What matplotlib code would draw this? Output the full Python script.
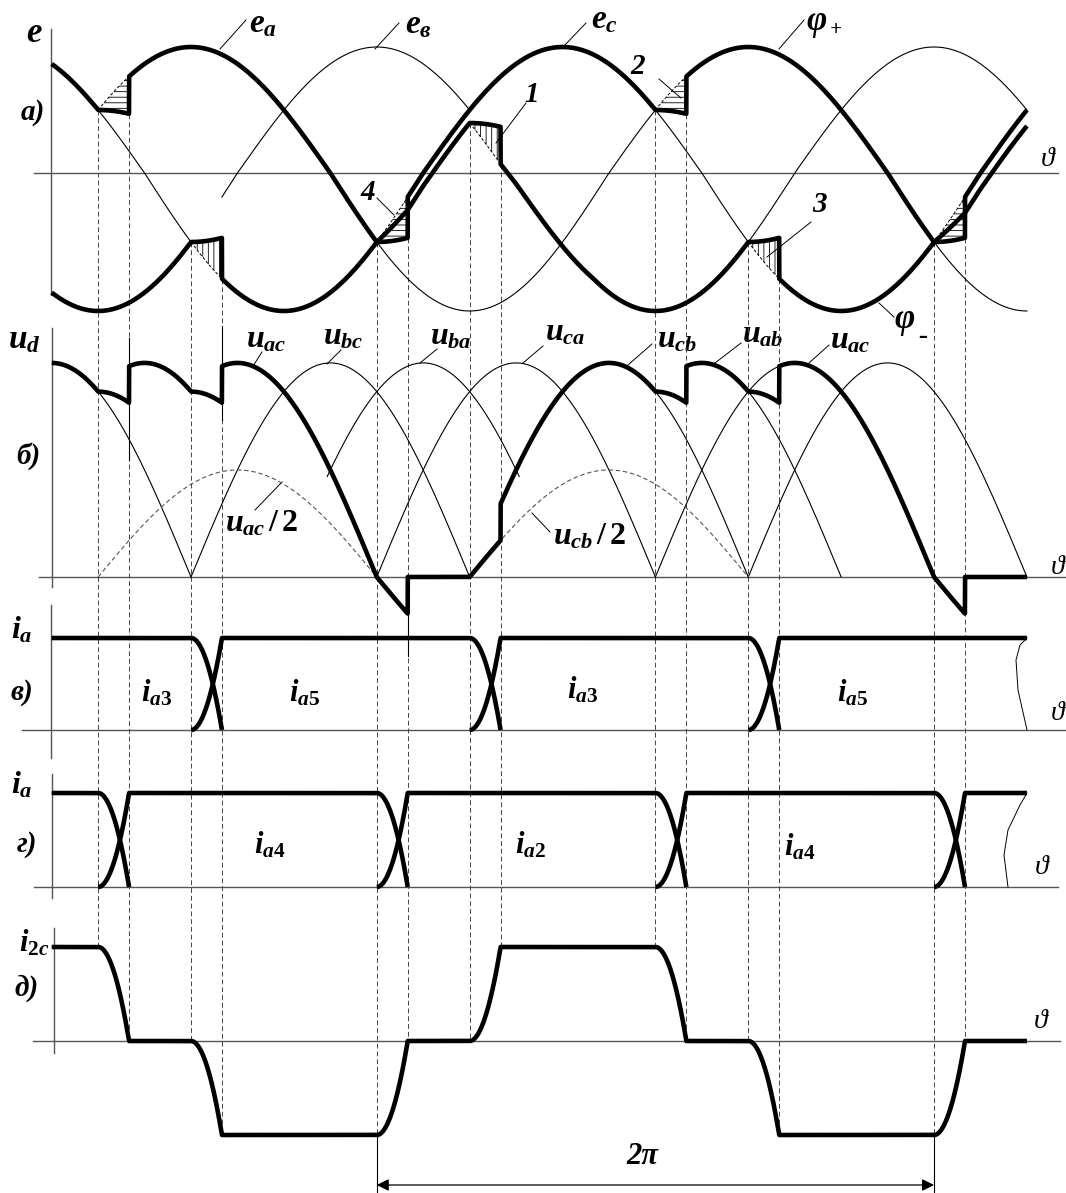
import numpy as np
import matplotlib
matplotlib.use("Agg")
import matplotlib.pyplot as plt

# ---- data: angles in electrical degrees ----
THETA_START = -90
THETA_END = 540
GAMMA = 20  # commutation angle

PHASE_SHIFT = {"a": 0, "b": 120, "c": 240}

# valve groups: (start of commutation, outgoing phase, incoming phase)
CATHODE_FIRST = "c"
CATHODE_COMM = [(-60, "c", "a"), (120, "a", "c"), (300, "c", "a"), (480, "a", "c")]
ANODE_FIRST = "b"
ANODE_COMM = [(0, "b", "c"), (180, "c", "b"), (360, "b", "c")]

# thin parts of the phase emfs (panel a) and of the line voltages (panel б)
E_THIN = [("a", 120, 300), ("a", 480, 540), ("b", 20, 180), ("b", 360, 540),
          ("c", -60, 0), ("c", 300, 360)]
U_THIN = [("c", "b", -60, 0), ("b", "c", 0, 180), ("b", "a", 88, 212),
          ("c", "a", 120, 300), ("c", "b", 300, 360), ("a", "c", 300, 380),
          ("a", "b", 360, 420), ("b", "c", 360, 540)]
U_HALF = [("a", "c", -60, 120), ("c", "b", 180, 360)]

PANEL_V_PHASES = ["b", "c"]   # anode valves, panel в
PANEL_G_PHASES = ["a", "c"]   # cathode valves, panel г
TWO_PI = (120, 480)

# ---- layout (pixels) ----
W, H = 1066, 1193
X0, KX = 191, 1.548          # pixel of theta = 0, pixels per degree
PHI_MINUS_GAP = ([120, 140, 200, 260, 480, 500], [0, 13, 13, 0, 0, 16])
SOLID_MARKS = [(-40, 338, 460), (20, 326, 420), (140, 612, 656)]


def ya(v):
    return 173 - np.where(v > 0, 126, 138) * v


def yb(v):
    return 577 - 123.6 * v


def yv(v):
    return 730 - 92 * v


def yg(v):
    return 887 - 94 * v


def yd(v):
    return 1041 - 94 * v


def emf(p, t):
    return np.cos(np.radians(t - PHASE_SHIFT[p]))


def valve_group(comm, first, t):
    pot = emf(first, t)
    cur = {p: np.zeros_like(t) for p in "abc"}
    cur[first][t < comm[0][0]] = 1.0
    for k, (t0, out, inc) in enumerate(comm):
        t1 = t0 + GAMMA
        t_next = comm[k + 1][0] if k + 1 < len(comm) else np.inf
        dur = (t >= t0) & (t < t1)
        aft = (t >= t1) & (t < t_next)
        share = (1 - np.cos(np.radians(t[dur] - t0))) / (1 - np.cos(np.radians(GAMMA)))
        pot[dur] = (emf(out, t[dur]) + emf(inc, t[dur])) / 2
        cur[inc][dur] = share
        cur[out][dur] = 1 - share
        pot[aft] = emf(inc, t[aft])
        cur[inc][aft] = 1.0
    return pot, cur


th = np.linspace(THETA_START, THETA_END, 12601)
phi_p, cur_k = valve_group(CATHODE_COMM, CATHODE_FIRST, th)
phi_m, cur_n = valve_group(ANODE_COMM, ANODE_FIRST, th)
ud = phi_p - phi_m
i2c = cur_k["c"] - cur_n["c"]

plt.rcParams['font.family'] = ['Liberation Serif', 'DejaVu Serif']
plt.rcParams['mathtext.fontset'] = 'custom'
plt.rcParams['mathtext.it'] = 'Liberation Serif:italic:bold'
plt.rcParams['mathtext.rm'] = 'Liberation Serif:bold'
plt.rcParams['mathtext.bf'] = 'Liberation Serif:bold'
plt.rcParams['hatch.linewidth'] = 0.6

THICK = dict(color="black", lw=3.3, solid_capstyle="butt", zorder=4)
THIN = dict(color="black", lw=0.8, zorder=2)
AXL = dict(color="#555555", lw=1.0, zorder=1)

fig = plt.figure(figsize=(W / 100, H / 100), dpi=100)
lab = fig.add_axes([0, 0, 1, 1])
lab.set_xlim(0, W)
lab.set_ylim(H, 0)
lab.axis("off")
ax = fig.add_axes([0, 0, 1, 1])
ax.set_xlim(-X0 / KX, (W - X0) / KX)
ax.set_ylim(H, 0)
ax.axis("off")

# ---- panel a ----
gap = np.interp(th, *PHI_MINUS_GAP)
yp = ya(phi_p)
ym = ya(phi_m) + gap
for p, t0, t1 in E_THIN:
    t = np.linspace(t0, t1, 300)
    ax.plot(t, ya(emf(p, t)), **THIN)
for comm, hatch, shifted in ((CATHODE_COMM, '---', False), (ANODE_COMM, '|||', True)):
    for t0, out, inc in comm:
        t = np.linspace(t0, t0 + GAMMA, 100)
        off = np.interp(t, *PHI_MINUS_GAP) if shifted else 0
        y_avg = ya((emf(out, t) + emf(inc, t)) / 2) + off
        y_inc = ya(emf(inc, t)) + off
        ax.fill_between(t, y_avg, y_inc, facecolor='none', edgecolor='black',
                        hatch=hatch, lw=0, zorder=2)
        ax.plot(t, y_inc, color='black', lw=0.7, dashes=(3, 2), zorder=2)
ax.plot(th, yp, **THICK)
ax.plot(th, ym, **THICK)

# ---- panel б ----
for p, q, t0, t1 in U_THIN:
    t = np.linspace(t0, t1, 300)
    ax.plot(t, yb(emf(p, t) - emf(q, t)), **THIN)
for p, q, t0, t1 in U_HALF:
    t = np.linspace(t0, t1, 300)
    ax.plot(t, yb((emf(p, t) - emf(q, t)) / 2), color='#555555', lw=0.8,
            dashes=(4, 2.5), zorder=2)
ax.plot(th, yb(ud), **THICK)


# ---- panels в, г ----
def draw_current(i, yfun):
    on = np.convolve(i > 1e-9, [1, 1, 1], mode='same') > 0
    ax.plot(th, yfun(np.where(on, i, np.nan)), **THICK)


for p in PANEL_V_PHASES:
    draw_current(cur_n[p], yv)
for p in PANEL_G_PHASES:
    draw_current(cur_k[p], yg)

# ---- panel д ----
ax.plot(th, yd(i2c), **THICK)


# ---- dashed projection lines ----
def edge_px(yarr, t):
    k = np.searchsorted(th, t)
    return max(yarr[max(k - 3, 0)], yarr[min(k + 3, len(th) - 1)])


events = [(t0 + d, yp) for t0, _, _ in CATHODE_COMM for d in (0, GAMMA)]
events += [(t0 + d, ym) for t0, _, _ in ANODE_COMM for d in (0, GAMMA)]
for t, yarr in events:
    y_top = edge_px(yarr, t)
    y_bot = float(yd(np.interp(t, th, i2c)))
    ax.plot([t, t], [y_top, y_bot], color='#444444', lw=0.7, dashes=(5, 3), zorder=1)
for t, y0, y1 in SOLID_MARKS:
    ax.plot([t, t], [y0, y1], **THIN)
for t in TWO_PI:
    ax.plot([t, t], [float(yd(np.interp(t, th, i2c))), H], **THIN)
ax.annotate('', xy=(TWO_PI[0], 1185), xytext=(TWO_PI[1], 1185),
            arrowprops=dict(arrowstyle='<|-|>', color='black', lw=0.9,
                            mutation_scale=18, shrinkA=0, shrinkB=0))

# ---- axes lines ----
for y, x0, x1 in [(173, 34, 1058), (577, 39, 1066), (730, 22, 1066), (887, 34, 1058),
                  (1041, 33, 1060)]:
    lab.plot([x0, x1], [y, y], **AXL)
for x, y0, y1 in [(50.6, 29, 295), (51.6, 328, 587), (50.6, 605, 758), (51.7, 774, 898),
                  (54, 928, 1053)]:
    lab.plot([x, x], [y0, y1], **AXL)
# break marks
lab.plot([1027, 1020, 1016, 1018, 1027], [638, 645, 660, 690, 730], color='black', lw=0.7)
lab.plot([1027, 1020, 1008, 1004, 1008], [793, 805, 830, 855, 887], color='black', lw=0.7)

# ---- leaders ----
LEADERS = [((220, 49), (246, 20)), ((375, 49), (399, 23)), ((563, 47), (586, 23)),
           ((779, 49), (804, 20)), ((496, 143), (526, 103)), ((659, 79), (681, 98)),
           ((811, 222), (767, 257)), ((377, 198), (394, 215)), ((879, 303), (894, 317)),
           ((253, 366), (262, 352)), ((327, 364), (341, 350)), ((420, 363), (437, 349)),
           ((523, 363), (543, 346)), ((628, 365), (652, 344)), ((715, 363), (741, 343)),
           ((809, 363), (829, 345)), ((255, 510), (282, 482)), ((550, 532), (532, 513))]
for (x0, y0), (x1, y1) in LEADERS:
    lab.plot([x0, x1], [y0, y1], color='black', lw=0.7)

# ---- labels ----
TXT = dict(fontweight='bold', fontstyle='italic', ha='center', va='center')
LABELS = [
    (34, 33, 'e', 25), (33, 113, 'а)', 21),
    (263, 24, r'$e_a$', 24), (418, 25, r'$e_в$', 24), (604, 20, r'$e_c$', 24),
    (817, 22, 'φ', 25), (836, 30, '+', 15), (905, 320, 'φ', 25), (923, 336, '-', 20),
    (532, 95, '1', 21), (638, 66, '2', 21), (820, 204, '3', 21), (368, 193, '4', 21),
    (24, 340, r'$u_d$', 24), (28, 456, 'б)', 21),
    (266, 340, r'$u_{ac}$', 23), (343, 337, r'$u_{bc}$', 23), (451, 337, r'$u_{ba}$', 23),
    (565, 333, r'$u_{ca}$', 23), (677, 340, r'$u_{cb}$', 23), (763, 335, r'$u_{ab}$', 23),
    (850, 341, r'$u_{ac}$', 23),
    (262, 524, r'$u_{ac}\,/\,2$', 23), (590, 537, r'$u_{cb}\,/\,2$', 23),
    (22, 630, r'$i_a$', 23), (22, 692, 'в)', 21),
    (157, 693, r'$i_{a3}$', 22), (305, 693, r'$i_{a5}$', 22),
    (583, 690, r'$i_{a3}$', 22), (853, 693, r'$i_{a5}$', 22),
    (22, 785, r'$i_a$', 23), (27, 845, 'г)', 21),
    (270, 845, r'$i_{a4}$', 22), (530, 845, r'$i_{a2}$', 22), (800, 847, r'$i_{a4}$', 22),
    (34, 943, r'$i_{2c}$', 22), (27, 988, 'д)', 21),
    (642, 1157, '2π', 22),
]
for x, y, s, size in LABELS:
    lab.text(x, y, s, fontsize=size, **TXT)
for x, y in [(1048, 160), (1058, 567), (1058, 713), (1042, 867), (1041, 1022)]:
    lab.text(x, y, 'ϑ', fontsize=20, fontstyle='italic', ha='center', va='center')

fig.savefig("out.png", dpi=100)
